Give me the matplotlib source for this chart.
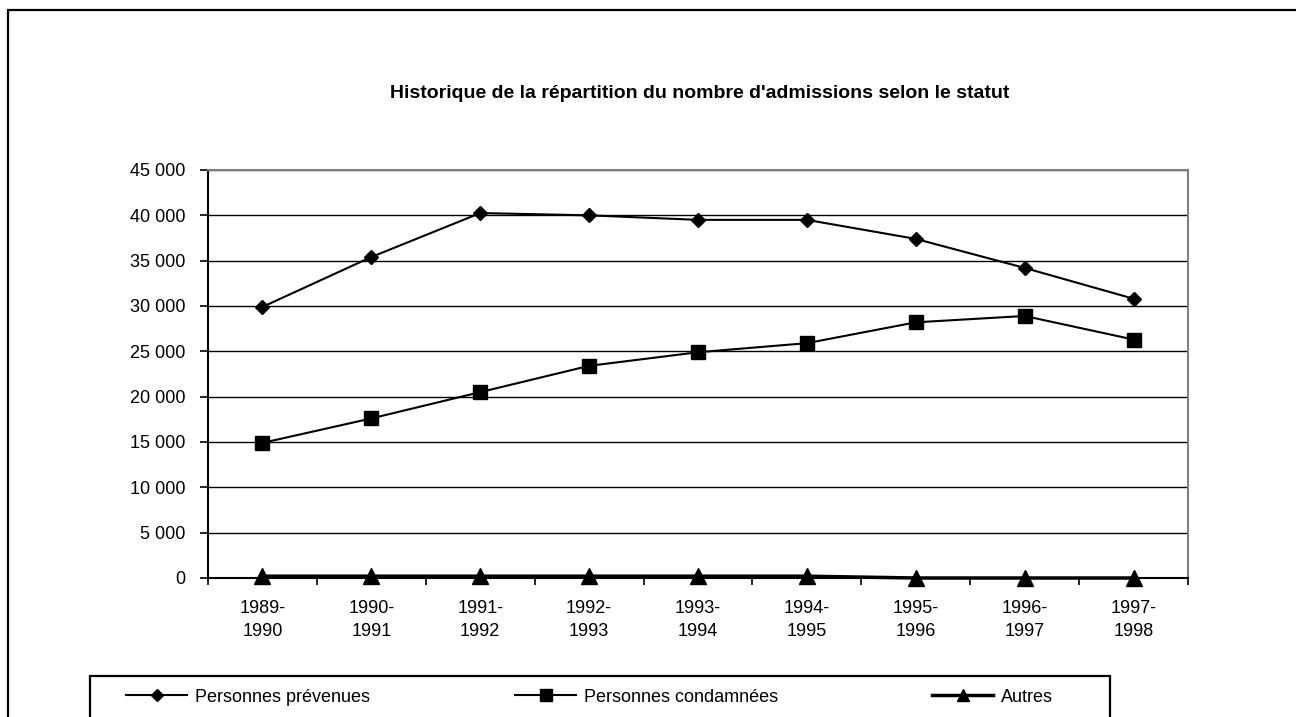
import matplotlib
matplotlib.use("Agg")
import matplotlib.pyplot as plt
from matplotlib.patches import Rectangle
from matplotlib.ticker import FuncFormatter

plt.rcParams['font.family'] = ['Liberation Sans', 'DejaVu Sans']

# data
periods = ['1989-\n1990', '1990-\n1991', '1991-\n1992', '1992-\n1993', '1993-\n1994',
           '1994-\n1995', '1995-\n1996', '1996-\n1997', '1997-\n1998']
prevenues = [29900, 35400, 40250, 40000, 39500, 39500, 37400, 34200, 30800]
condamnees = [14900, 17600, 20500, 23400, 24900, 25900, 28200, 28900, 26300]
autres = [200, 200, 200, 200, 200, 200, 0, 0, 0]

W, H = 1296, 717
fig = plt.figure(figsize=(W / 100, H / 100), dpi=100)

# outer frame of the chart object (cut at right and bottom)
fig.patches.append(Rectangle((8 / W, -0.1), 1.2, 1 - 10 / H + 0.1, transform=fig.transFigure,
                             fill=False, edgecolor='black', linewidth=1.6))

ax = fig.add_axes([208 / W, 1 - 578 / H, (1188 - 208) / W, (578 - 170) / H])

x = list(range(len(periods)))
l1, = ax.plot(x, prevenues, color='black', lw=1.5, marker='D', ms=7.5, label='Personnes prévenues')
l2, = ax.plot(x, condamnees, color='black', lw=1.5, marker='s', ms=10, label='Personnes condamnées')
l3, = ax.plot(x, autres, color='black', lw=2.5, marker='^', ms=11, label='Autres', clip_on=False)

ax.set_xlim(-0.5, len(periods) - 0.5)
ax.set_ylim(0, 45000)
ax.set_yticks(range(0, 45001, 5000))
ax.yaxis.set_major_formatter(FuncFormatter(lambda v, p: f"{int(v):,}".replace(',', ' ')))
ax.yaxis.grid(True, color='black', lw=1.0)
ax.set_axisbelow(True)

# category labels centred, tick marks on the boundaries
ax.set_xticks([i - 0.5 for i in range(len(periods) + 1)])
ax.set_xticklabels([])
ax.set_xticks(x, minor=True)
ax.set_xticklabels(periods, minor=True, fontsize=13, linespacing=1.45)
ax.tick_params(axis='x', which='minor', length=0, pad=16)
ax.tick_params(axis='x', which='major', length=5, width=1.2, direction='out')
ax.tick_params(axis='y', length=6, width=1.2, pad=10, labelsize=13)

for s in ['left', 'bottom']:
    ax.spines[s].set_linewidth(1.5)
for s in ['top', 'right']:
    ax.spines[s].set_color('#808080')
    ax.spines[s].set_linewidth(1.5)

fig.text(700 / W, 1 - 93 / H, "Historique de la répartition du nombre d'admissions selon le statut",
         ha='center', va='center', fontsize=14, fontweight='bold')

# legend box (cut at the bottom of the picture)
fig.patches.append(Rectangle((90 / W, -0.1), (1110 - 90) / W, 0.1 + 1 - 676 / H,
                             transform=fig.transFigure, fill=False, edgecolor='black', linewidth=1.6))
# one legend per entry so each sits where it does in the original
for handle, x0 in zip([l1, l2, l3], [126, 515, 932]):
    fig.legend([handle], [handle.get_label()], loc='center left',
               bbox_to_anchor=(x0 / W, 1 - 697 / H), frameon=False, fontsize=13,
               handlelength=3.4, handletextpad=0.4, borderpad=0, borderaxespad=0,
               markerscale=0.85)

plt.savefig("out.png", dpi=100)
